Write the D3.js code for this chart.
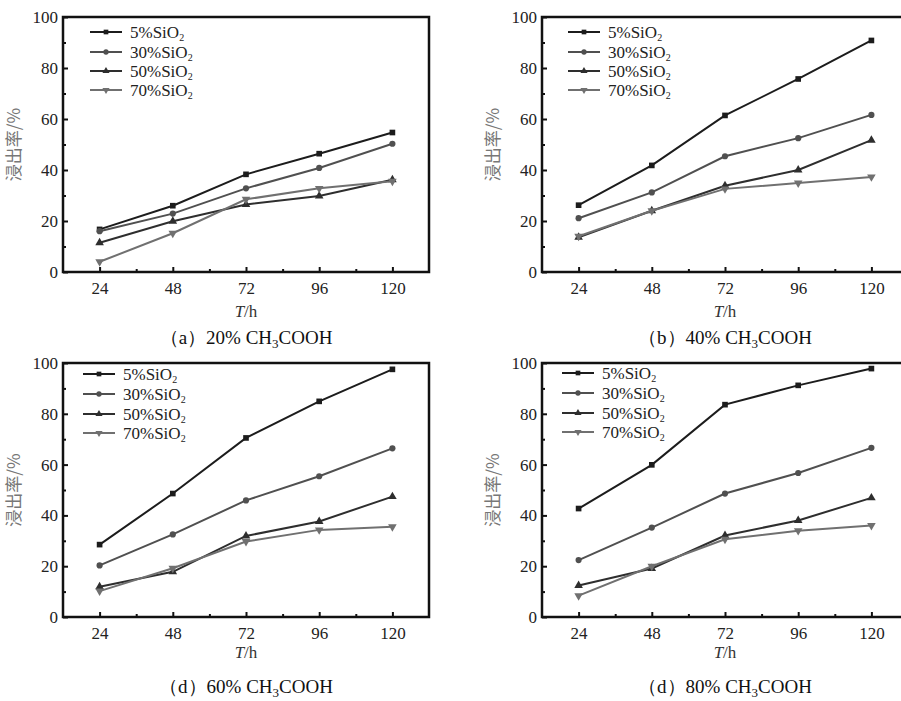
<!DOCTYPE html>
<html>
<head>
<meta charset="utf-8">
<script src="https://cdn.jsdelivr.net/npm/d3@7"></script>
<style>
html,body{margin:0;padding:0;background:#fff;overflow:hidden;}
svg{display:block;}
</style>
</head>
<body>
<svg id="chart" width="901" height="701"></svg>
<script>
// ---- data ----
const hours = [24, 48, 72, 96, 120];
const xTickLabels = ["24", "48", "72", "96", "120"];
const yTickValues = [0, 20, 40, 60, 80, 100];
const seriesNames = ["5%SiO", "30%SiO", "50%SiO", "70%SiO"];
const panelCaptions = ["（a）20% CH", "（b）40% CH", "（d）60% CH", "（d）80% CH"];

const panelA_5  = [16.7, 26.0, 38.3, 46.4, 54.7];
const panelA_30 = [16.0, 22.9, 32.8, 40.8, 50.3];
const panelA_50 = [11.5, 19.9, 26.5, 29.8, 36.2];
const panelA_70 = [4.0, 15.2, 28.5, 32.8, 35.6];

const panelB_5  = [26.2, 41.8, 61.4, 75.7, 90.8];
const panelB_30 = [21.1, 31.2, 45.4, 52.5, 61.6];
const panelB_50 = [13.6, 24.0, 33.8, 40.0, 51.7];
const panelB_70 = [14.0, 24.0, 32.6, 34.9, 37.3];

const panelC_5  = [28.5, 48.6, 70.5, 84.9, 97.5];
const panelC_30 = [20.3, 32.5, 45.9, 55.4, 66.4];
const panelC_50 = [11.9, 17.8, 31.9, 37.6, 47.4];
const panelC_70 = [10.2, 19.2, 29.7, 34.3, 35.5];

const panelD_5  = [42.7, 59.9, 83.6, 91.2, 97.8];
const panelD_30 = [22.4, 35.2, 48.6, 56.7, 66.6];
const panelD_50 = [12.4, 19.1, 32.1, 38.0, 46.9];
const panelD_70 = [8.4, 20.0, 30.6, 34.0, 36.0];

const panelData = [
  [panelA_5, panelA_30, panelA_50, panelA_70],
  [panelB_5, panelB_30, panelB_50, panelB_70],
  [panelC_5, panelC_30, panelC_50, panelC_70],
  [panelD_5, panelD_30, panelD_50, panelD_70]
];

// ---- styles / layout ----
const colors = ["#1c1c1c", "#505050", "#2e2e2e", "#707070"];
const symbols = [d3.symbolSquare, d3.symbolCircle, d3.symbolTriangle, "down"];
const layouts = [
  {left: 63, top: 17, right: 429, bottom: 272, titleY: 317, capY: 344, legX: 27, legY: [15, 35, 54, 73]},
  {left: 542, top: 17, right: 908, bottom: 272, titleY: 317, capY: 344, legX: 26, legY: [15, 35, 54, 73]},
  {left: 63, top: 363, right: 429, bottom: 617, titleY: 658, capY: 693, legX: 20, legY: [11, 31, 51, 70]},
  {left: 542, top: 363, right: 908, bottom: 617, titleY: 658, capY: 693, legX: 20, legY: [10, 30, 50, 69]}
];
const serif = "Liberation Serif, Times New Roman, serif";

const svg = d3.select("#chart");

function markerPath(i, size) {
  if (symbols[i] === "down") {
    return {d: d3.symbol().type(d3.symbolTriangle).size(size)(), rot: 180};
  }
  return {d: d3.symbol().type(symbols[i]).size(size)(), rot: 0};
}

layouts.forEach((L, pi) => {
  const g = svg.append("g");
  const x = d3.scaleLinear().domain([12, 132]).range([L.left, L.right]);
  const y = d3.scaleLinear().domain([0, 100]).range([L.bottom, L.top]);

  // series
  panelData[pi].forEach((vals, si) => {
    const pts = hours.map((h, k) => [x(h), y(vals[k])]);
    g.append("path")
      .attr("d", d3.line()(pts))
      .attr("fill", "none")
      .attr("stroke", colors[si])
      .attr("stroke-width", 2);
    const m = markerPath(si, si === 1 ? 30 : 32);
    pts.forEach(p => {
      g.append("path").attr("d", m.d)
        .attr("transform", `translate(${p[0]},${p[1]}) rotate(${m.rot})`)
        .attr("fill", colors[si]);
    });
  });

  // axes
  const xAxis = g.append("g").attr("transform", `translate(0,${L.bottom})`)
    .call(d3.axisBottom(x).tickValues(hours).tickFormat((d, i) => xTickLabels[i]).tickSize(-5).tickPadding(10));
  const xMinor = g.append("g").attr("transform", `translate(0,${L.bottom})`)
    .call(d3.axisBottom(x).tickValues([36, 60, 84, 108]).tickFormat("").tickSize(-3));
  const yAxis = g.append("g").attr("transform", `translate(${L.left},0)`)
    .call(d3.axisLeft(y).tickValues(yTickValues).tickSize(-5).tickPadding(5));
  const yMinor = g.append("g").attr("transform", `translate(${L.left},0)`)
    .call(d3.axisLeft(y).tickValues([10, 30, 50, 70, 90]).tickFormat("").tickSize(-3));
  [xAxis, xMinor, yAxis, yMinor].forEach(a => {
    a.attr("font-family", serif).attr("font-size", 17);
    a.select(".domain").remove();
    a.selectAll("line").attr("stroke", "#111").attr("stroke-width", 2);
    a.selectAll("text").style("font-family", serif).attr("font-size", 17).attr("fill", "#222");
  });

  // frame
  g.append("rect")
    .attr("x", L.left).attr("y", L.top)
    .attr("width", L.right - L.left).attr("height", L.bottom - L.top)
    .attr("fill", "none").attr("stroke", "#111").attr("stroke-width", 2.5);

  // y title
  g.append("text")
    .attr("transform", `translate(${L.left - 43},${(L.top + L.bottom) / 2}) rotate(-90)`)
    .attr("text-anchor", "middle")
    .style("font-family", "Noto Sans CJK SC, sans-serif")
    .attr("font-size", 17).attr("fill", "#777")
    .text("浸出率/%");

  // x title
  const xt = g.append("text")
    .attr("x", x(72)).attr("y", L.titleY)
    .attr("text-anchor", "middle")
    .style("font-family", serif).attr("font-size", 17).attr("fill", "#333");
  xt.append("tspan").attr("font-style", "italic").text("T");
  xt.append("tspan").text("/h");

  // caption
  const cap = g.append("text")
    .attr("x", x(72)).attr("y", L.capY)
    .attr("text-anchor", "middle")
    .style("font-family", serif).attr("font-size", 19).attr("fill", "#111");
  cap.append("tspan").text(panelCaptions[pi]);
  cap.append("tspan").attr("font-size", 13).attr("dy", 4).text("3");
  cap.append("tspan").attr("dy", -4).text("COOH");

  // legend
  seriesNames.forEach((name, si) => {
    const ly = L.top + L.legY[si];
    const lx0 = L.left + L.legX;
    const lx1 = lx0 + 32;
    g.append("line").attr("x1", lx0).attr("x2", lx1).attr("y1", ly).attr("y2", ly)
      .attr("stroke", colors[si]).attr("stroke-width", 2);
    const m = markerPath(si, 22);
    g.append("path").attr("d", m.d)
      .attr("transform", `translate(${(lx0 + lx1) / 2},${ly}) rotate(${m.rot})`)
      .attr("fill", colors[si]);
    const t = g.append("text").attr("x", lx1 + 8).attr("y", ly + 6)
      .style("font-family", serif).attr("font-size", 17).attr("fill", "#222");
    t.append("tspan").text(name);
    t.append("tspan").attr("font-size", 10).attr("dy", 3).text("2");
  });
});
</script>
</body>
</html>
